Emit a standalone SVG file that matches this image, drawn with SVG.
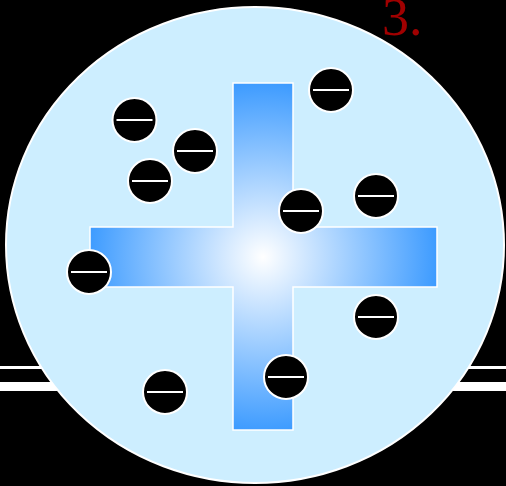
<svg xmlns="http://www.w3.org/2000/svg" width="506" height="486" viewBox="0 0 506 486">
<defs>
<radialGradient id="g" gradientUnits="userSpaceOnUse" cx="263" cy="257" r="175">
<stop offset="0" stop-color="#ffffff"/>
<stop offset="1" stop-color="#3d9bff"/>
</radialGradient>
<g id="e"><circle r="22" fill="#000" stroke="#fff" stroke-width="2"/><line x1="-18" y1="0" x2="18" y2="0" stroke="#fff" stroke-width="2"/></g>
</defs>
<style>.w{fill:#fff}</style>
<rect width="506" height="486" fill="#000"/>
<rect class="w" x="0" y="366" width="506" height="3"/>
<rect class="w" x="0" y="382" width="506" height="9"/>
<text x="382" y="35" font-family="Liberation Serif, serif" font-size="54" fill="#a00000">3.</text>
<g id="body">
<ellipse cx="255" cy="245" rx="249" ry="238" fill="#cdeeff" stroke="#fff" stroke-width="2"/>
</g>
<g id="cross">
<path d="M233,83 H293 V227 H437 V287 H293 V430 H233 V287 H90 V227 H233 Z" fill="url(#g)" stroke="#fff" stroke-width="1.5"/>
</g>
<g id="electrons">
<use id="e1" href="#e" x="134.5" y="120"/>
<use id="e2" href="#e" x="195" y="151"/>
<use id="e3" href="#e" x="150" y="181"/>
<use id="e4" href="#e" x="331" y="90"/>
<use id="e5" href="#e" x="376" y="196"/>
<use id="e6" href="#e" x="301" y="211"/>
<use id="e7" href="#e" x="89" y="272"/>
<use id="e8" href="#e" x="376" y="317"/>
<use id="e9" href="#e" x="286" y="377"/>
<use id="e10" href="#e" x="165" y="392"/>
</g>
</svg>
